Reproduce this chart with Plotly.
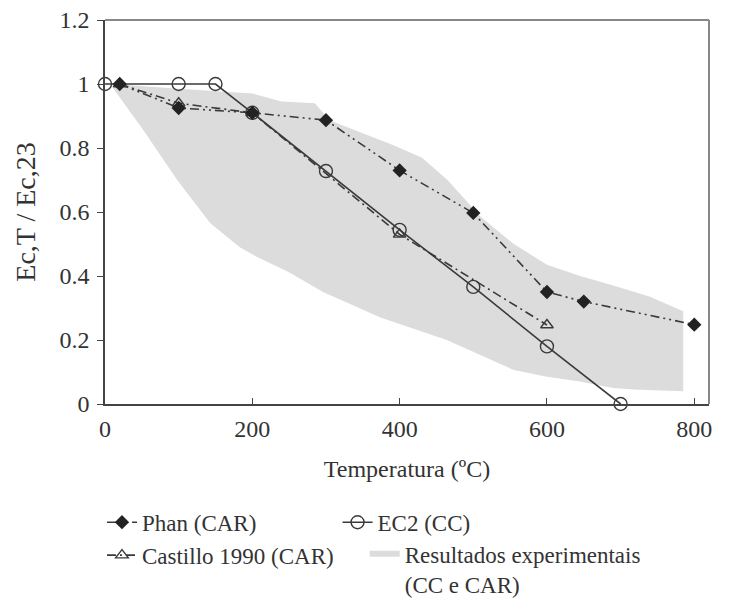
import plotly.graph_objects as go

# ---- data ----
phan_T = [20, 100, 200, 300, 400, 500, 600, 650, 800]
phan_v = [1.0, 0.925, 0.91, 0.887, 0.73, 0.597, 0.35, 0.32, 0.248]

castillo_T = [20, 100, 200, 400, 600]
castillo_v = [1.0, 0.94, 0.91, 0.53, 0.247]

ec2_T = [0, 100, 150, 200, 300, 400, 500, 600, 700]
ec2_v = [1.0, 1.0, 1.0, 0.91, 0.728, 0.544, 0.366, 0.18, 0.0]

upper_T = [10, 100, 200, 240, 285, 305, 350, 390, 430, 465, 510, 555, 600, 645, 690, 740, 785]
upper_v = [1.0, 0.985, 0.97, 0.945, 0.94, 0.887, 0.846, 0.81, 0.77, 0.70, 0.585, 0.50, 0.435, 0.40, 0.37, 0.335, 0.29]
lower_T = [785, 717, 690, 645, 600, 555, 464, 374, 296, 251, 206, 183, 143, 98, 52, 10]
lower_v = [0.04, 0.045, 0.05, 0.07, 0.085, 0.106, 0.2, 0.27, 0.35, 0.41, 0.46, 0.49, 0.565, 0.70, 0.856, 0.99]

x_ticks = [0, 200, 400, 600, 800]
y_ticks = [0, 0.2, 0.4, 0.6, 0.8, 1, 1.2]
y_tick_text = ["0", "0.2", "0.4", "0.6", "0.8", "1", "1.2"]

FONT = "Liberation Serif"
LINE = "#3a3a3a"
GRAY = "#dcdcdc"

fig = go.Figure()

fig.add_trace(go.Scatter(
    x=upper_T + lower_T, y=upper_v + lower_v,
    fill="toself", fillcolor=GRAY, mode="none",
    name="Resultados experimentais<br>(CC e CAR)", legend="legend3",
    hoverinfo="skip"))

fig.add_trace(go.Scatter(
    x=ec2_T, y=ec2_v, mode="lines+markers", name="EC2 (CC)", legend="legend2",
    line=dict(color=LINE, width=1.6),
    marker=dict(symbol="circle-open", size=13, color=LINE, line=dict(width=1.4)),
    cliponaxis=False))

fig.add_trace(go.Scatter(
    x=castillo_T, y=castillo_v, mode="lines+markers", name="Castillo 1990 (CAR)",
    legend="legend", legendrank=2,
    line=dict(color=LINE, width=1.6, dash="9px,4px,2px,4px"),
    marker=dict(symbol="triangle-up-open", size=11, color=LINE, line=dict(width=1.4)),
    cliponaxis=False))

fig.add_trace(go.Scatter(
    x=phan_T, y=phan_v, mode="lines+markers", name="Phan (CAR)",
    legend="legend", legendrank=1,
    line=dict(color=LINE, width=1.6, dash="9px,4px,2px,4px,2px,4px"),
    marker=dict(symbol="diamond", size=11, color="#222222"),
    cliponaxis=False))

axis_font = dict(family=FONT, size=24, color="#333")
leg_font = dict(family=FONT, size=23, color="#333")

fig.update_layout(
    width=734, height=600,
    margin=dict(l=105, r=25, t=20, b=196, autoexpand=False),
    paper_bgcolor="white", plot_bgcolor="white",
    font=dict(family=FONT, color="#333"),
    xaxis=dict(range=[0, 820], tickvals=x_ticks, ticks="inside", ticklen=6,
               tickcolor="#444", showline=True, linecolor="#444", linewidth=1.5,
               showgrid=False, zeroline=False, tickfont=axis_font,
               ticklabelstandoff=2,
               title=dict(text="Temperatura (ºC)", font=dict(family=FONT, size=24, color="#333"),
                          standoff=20)),
    yaxis=dict(range=[0, 1.2], tickvals=y_ticks, ticktext=y_tick_text, ticks="outside",
               ticklen=6, tickcolor="#444", showline=True, linecolor="#444", linewidth=1.5,
               showgrid=False, zeroline=False, tickfont=axis_font,
               ticklabelstandoff=3,
               title=dict(text="Ec,T / Ec,23", font=dict(family=FONT, size=28, color="#333"),
                          standoff=16)),
    legend=dict(x=-0.005, y=-0.252, xanchor="left", yanchor="top",
                font=leg_font, bgcolor="rgba(0,0,0,0)",
                tracegroupgap=0, itemwidth=30),
    legend2=dict(x=0.385, y=-0.252, xanchor="left", yanchor="top",
                 font=leg_font, bgcolor="rgba(0,0,0,0)",
                 itemwidth=30),
    legend3=dict(x=0.43, y=-0.334, xanchor="left", yanchor="top", valign="top",
                 font=leg_font, bgcolor="rgba(0,0,0,0)",
                 itemwidth=30),
    showlegend=True,
    shapes=[
        dict(type="line", xref="paper", yref="paper", x0=0, x1=1, y0=1, y1=1,
             line=dict(color="#888", width=2)),
        dict(type="line", xref="paper", yref="paper", x0=1, x1=1, y0=0, y1=1,
             line=dict(color="#888", width=2)),
    ],
)

fig.write_html("out.html")
